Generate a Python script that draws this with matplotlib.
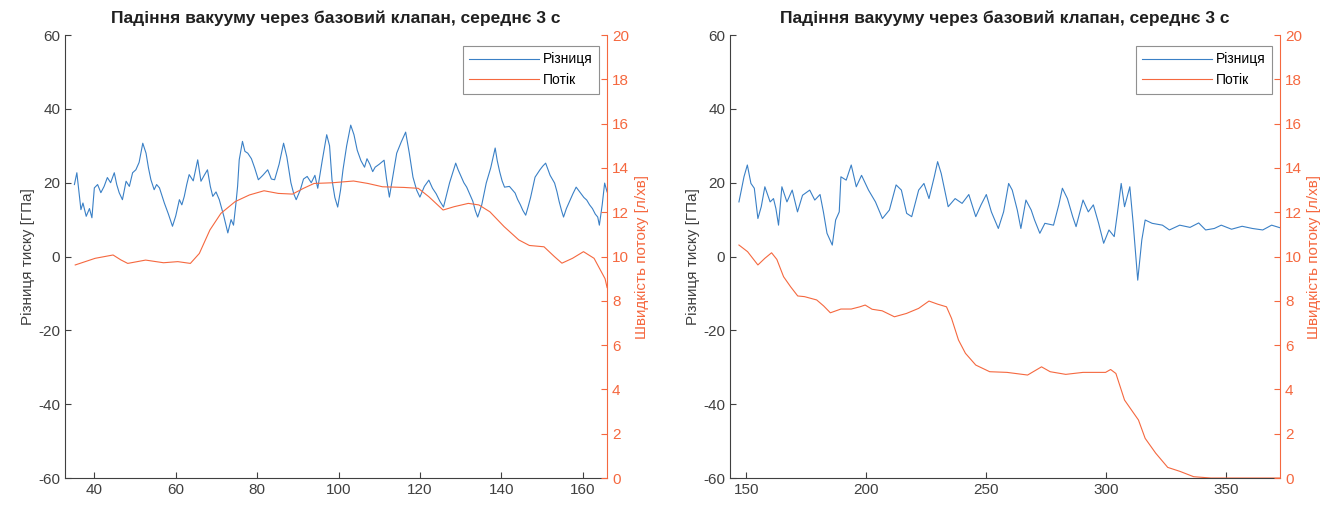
import numpy as np
import matplotlib.pyplot as plt

plt.rcParams['font.family'] = ['Liberation Sans', 'DejaVu Sans']
plt.rcParams['axes.unicode_minus'] = False

title = "Падіння вакууму через базовий клапан, середнє 3 с"
lbl_diff = "Різниця"
lbl_flow = "Потік"
ylab_left = "Різниця тиску [ГПа]"
ylab_right = "Швидкість потоку [л/хв]"

# left panel - pressure difference
t1_diff = [35.1, 35.7, 36.7, 37.2, 38.0, 38.8, 39.4, 40.0, 40.8, 41.6, 42.4, 43.2, 44.0, 44.9, 45.5,
           46.1, 46.9, 47.8, 48.6, 49.4, 50.2, 51.0, 51.9, 52.7, 53.3, 53.9, 54.7, 55.3, 56.0, 56.6,
           57.2, 58.2, 59.2, 60.0, 60.9, 61.5, 62.1, 62.7, 63.3, 64.3, 65.4, 66.2, 67.0, 67.8, 68.5,
           69.1, 69.9, 70.7, 71.8, 72.8, 73.6, 74.2, 74.8, 75.2, 75.6, 76.4, 77.0, 77.7, 78.6, 79.4,
           80.3, 81.4, 82.6, 83.5, 84.3, 85.4, 86.5, 87.3, 88.3, 89.0, 89.6, 90.6, 91.4, 92.3, 93.3,
           94.2, 94.9, 96.0, 97.1, 97.8, 98.4, 99.1, 99.8, 100.5, 101.1, 102.0, 103.0, 103.8, 104.6,
           105.5, 106.4, 107.0, 107.7, 108.4, 109.0, 110.0, 111.2, 111.8, 112.5, 113.4, 114.3, 115.4,
           116.5, 117.4, 118.3, 119.2, 120.0, 121.1, 122.2, 123.1, 124.0, 124.9, 125.8, 126.5, 127.3,
           128.0, 128.8, 129.4, 130.0, 130.8, 131.5, 132.2, 133.0, 133.6, 134.2, 135.2, 136.3, 137.4,
           138.5, 139.0, 139.6, 140.2, 140.8, 142.0, 143.4, 144.0, 144.7, 145.3, 146.0, 146.6, 147.2,
           148.3, 149.5, 150.2, 150.9, 152.0, 153.1, 153.7, 154.2, 154.8, 155.3, 156.0, 156.8, 157.6,
           158.4, 159.6, 160.3, 161.0, 161.7, 162.4, 163.1, 163.7, 164.1, 164.8, 165.4, 166.0]
v1_diff = [19.5, 22.7, 12.7, 14.5, 10.9, 13.0, 10.5, 18.6, 19.5, 17.3, 19.0, 21.4, 20.0, 22.7, 19.5,
           17.3, 15.4, 20.4, 19.0, 22.7, 23.5, 25.5, 30.7, 28.0, 24.0, 20.8, 18.1, 19.5, 18.6, 16.5,
           14.5, 11.5, 8.2, 11.0, 15.4, 14.0, 16.3, 19.5, 22.2, 20.5, 26.2, 20.4, 22.0, 23.5, 19.0,
           16.3, 17.5, 15.4, 11.0, 6.4, 10.0, 8.5, 14.5, 19.0, 26.2, 31.2, 28.5, 28.0, 26.5, 24.0,
           20.8, 22.0, 23.5, 21.0, 20.8, 25.0, 30.7, 27.0, 20.0, 17.0, 15.4, 18.0, 21.0, 21.7, 20.0,
           22.0, 18.5, 26.0, 33.0, 30.0, 20.8, 16.0, 13.4, 18.0, 23.5, 30.0, 35.6, 33.0, 28.8,
           26.0, 24.2, 26.5, 25.0, 23.0, 24.2, 25.0, 26.1, 21.0, 16.1, 22.0, 28.0, 31.0,
           33.7, 28.0, 21.5, 18.0, 16.1, 19.0, 20.7, 18.5, 17.0, 15.0, 13.4, 16.5, 20.0,
           22.5, 25.3, 23.5, 22.0, 20.0, 18.8, 17.0, 15.0, 12.5, 10.7, 14.0, 19.9, 24.0,
           29.4, 26.0, 23.0, 20.5, 18.8, 19.0, 17.2, 15.5, 14.0, 12.5, 11.2, 13.5, 16.0,
           21.5, 23.5, 24.5, 25.3, 22.0, 19.9, 17.5, 15.0, 12.5, 10.7, 13.0, 15.0, 17.0,
           18.8, 17.0, 16.0, 15.3, 14.0, 13.0, 11.5, 10.7, 8.5, 14.0, 19.9, 17.5]

# left panel - flow
t1_flow = [35.3, 40.2, 44.6, 46.5, 48.2, 52.6, 57.0, 60.5, 63.6, 65.8, 68.4, 71.1, 74.6, 78.1,
           81.7, 85.2, 88.7, 91.4, 94.0, 98.4, 103.7, 107.2, 110.8, 116.1, 119.6, 122.2, 125.7,
           128.4, 131.9, 134.5, 137.2, 140.7, 144.3, 146.9, 150.5, 153.1, 154.9, 157.5, 160.2,
           162.8, 165.5, 166.0]
v1_flow = [9.62, 9.92, 10.07, 9.85, 9.69, 9.84, 9.72, 9.77, 9.69, 10.14, 11.2, 11.95, 12.48, 12.78,
           12.97, 12.85, 12.82, 13.08, 13.3, 13.33, 13.41, 13.3, 13.15, 13.12, 13.08, 12.7, 12.1,
           12.25, 12.4, 12.33, 12.02, 11.35, 10.75, 10.5, 10.44, 9.99, 9.7, 9.92, 10.22,
           9.92, 9.0, 8.6]

# right panel - pressure difference
t2_diff = [147.0, 148.0, 149.1, 150.5, 152.0, 153.4, 154.9, 156.3, 157.8, 160.0, 161.4, 162.4,
           163.5, 164.9, 167.0, 169.2, 171.4, 173.5, 176.5, 178.6, 180.8, 182.2, 183.7, 185.9,
           187.3, 188.8, 189.5, 191.7, 193.8, 195.9, 198.1, 201.0, 203.9, 206.8, 209.7, 212.5,
           214.7, 216.9, 219.0, 221.9, 224.1, 226.2, 228.4, 229.8, 231.3, 234.2, 237.1, 240.0,
           242.8, 245.7, 247.9, 250.1, 252.2, 255.1, 257.3, 259.4, 260.9, 263.0, 264.5, 266.6,
           268.8, 270.2, 272.4, 274.5, 278.1, 280.3, 281.8, 283.9, 286.1, 287.5, 290.4, 292.6,
           294.7, 296.9, 299.0, 301.2, 303.4, 304.8, 306.3, 307.7, 309.9, 311.3, 313.2, 314.9,
           316.3, 319.2, 323.5, 326.4, 330.7, 335.0, 338.6, 341.5, 345.1, 348.0, 352.3, 356.7,
           361.0, 365.3, 369.0, 372.5]
v2_diff = [14.8, 18.0, 21.6, 24.8, 19.8, 18.5, 10.3, 13.5, 18.9, 14.8, 15.7, 13.0,
           8.5, 18.9, 14.8, 18.0, 12.1, 16.6, 18.0, 15.3, 16.8, 12.1, 6.3, 3.1,
           9.9, 12.1, 21.6, 20.7, 24.8, 18.9, 22.0, 18.0, 14.8, 10.3, 12.6, 19.4,
           18.0, 11.7, 10.8, 18.0, 19.8, 15.7, 21.6, 25.7, 22.5, 13.5, 15.7, 14.4,
           16.8, 10.8, 14.0, 16.8, 12.1, 7.6, 12.1, 19.8, 18.0, 12.6, 7.6, 15.3,
           12.6, 9.9, 6.3, 9.0, 8.5, 14.0, 18.5, 15.7, 10.8, 8.1, 15.3, 12.1,
           14.0, 9.0, 3.6, 7.2, 5.4, 12.1, 19.8, 13.5, 18.9, 9.0, -6.4, 4.5,
           9.9, 9.0, 8.5, 7.2, 8.5, 7.9, 9.1, 7.2, 7.6, 8.5, 7.4, 8.2,
           7.6, 7.2, 8.5, 7.8]

# right panel - flow
t2_flow = [147.0, 150.6, 154.9, 157.8, 160.6, 162.8, 165.6, 168.5, 171.5, 174.3, 179.4, 182.3,
           185.1, 189.5, 193.8, 197.4, 199.6, 202.5, 206.7, 211.8, 216.8, 221.9, 226.2, 229.8,
           233.5, 235.6, 238.5, 241.4, 245.7, 251.5, 258.7, 267.3, 273.1, 276.7, 283.2, 290.4,
           299.8, 301.9, 304.1, 307.7, 313.5, 316.3, 320.7, 325.7, 330.8, 336.5, 343.7, 372.5]
v2_flow = [10.52, 10.22, 9.62, 9.92, 10.17, 9.87, 9.09, 8.64, 8.22, 8.19, 8.04, 7.77,
           7.46, 7.63, 7.63, 7.73, 7.81, 7.62, 7.55, 7.28, 7.43, 7.66, 7.99, 7.85,
           7.73, 7.21, 6.23, 5.63, 5.1, 4.8, 4.77, 4.65, 5.02, 4.8, 4.68, 4.77,
           4.77, 4.9, 4.72, 3.52, 2.62, 1.79, 1.12, 0.48, 0.3, 0.06, 0.0, 0.0]

blue = '#3A80C6'
orange = '#F5683F'
grey = '#404040'

fig = plt.figure(figsize=(13.44, 5.08), dpi=100)

panels = [
    ([0.0484, 0.059, 0.4033, 0.872], t1_diff, v1_diff, t1_flow, v1_flow, (32.8, 166.0), np.arange(40, 161, 20)),
    ([0.5432, 0.059, 0.4092, 0.872], t2_diff, v2_diff, t2_flow, v2_flow, (143.3, 372.5), np.arange(150, 351, 50)),
]

for pos, td, vd, tf, vf, xl, xt in panels:
    ax = fig.add_axes(pos)
    ax2 = ax.twinx()
    l1, = ax.plot(td, vd, color=blue, lw=0.8, label=lbl_diff)
    l2, = ax2.plot(tf, vf, color=orange, lw=0.8, label=lbl_flow)
    ax.set_xlim(xl)
    ax.set_ylim(-60, 60)
    ax2.set_ylim(0, 20)
    ax.set_xticks(xt)
    ax.set_yticks(np.arange(-60, 61, 20))
    ax2.set_yticks(np.arange(0, 21, 2))
    ax.tick_params(direction='in', length=4, labelsize=11, colors=grey, width=0.8)
    ax2.tick_params(direction='in', length=4, labelsize=11, colors=orange, width=0.8)
    for a in (ax, ax2):
        a.spines['top'].set_visible(False)
    ax.spines['right'].set_visible(False)
    ax.spines['left'].set_color(grey)
    ax.spines['bottom'].set_color(grey)
    ax2.spines['left'].set_visible(False)
    ax2.spines['bottom'].set_visible(False)
    ax2.spines['right'].set_color(orange)
    ax.set_ylabel(ylab_left, fontsize=11, color=grey, labelpad=2)
    ax2.set_ylabel(ylab_right, fontsize=11, color=orange, labelpad=4)
    ax.set_title(title, fontsize=12.5, fontweight='bold', color='#202020', pad=9)
    leg = ax2.legend([l1, l2], [lbl_diff, lbl_flow], loc='upper right', bbox_to_anchor=(0.985, 0.975),
                     fontsize=10, fancybox=False, framealpha=1, edgecolor='#909090',
                     handlelength=5.0, borderpad=0.45, labelspacing=0.5, handletextpad=0.3,
                     borderaxespad=0)
    leg.get_frame().set_linewidth(0.8)

fig.savefig('out.png', dpi=100)
